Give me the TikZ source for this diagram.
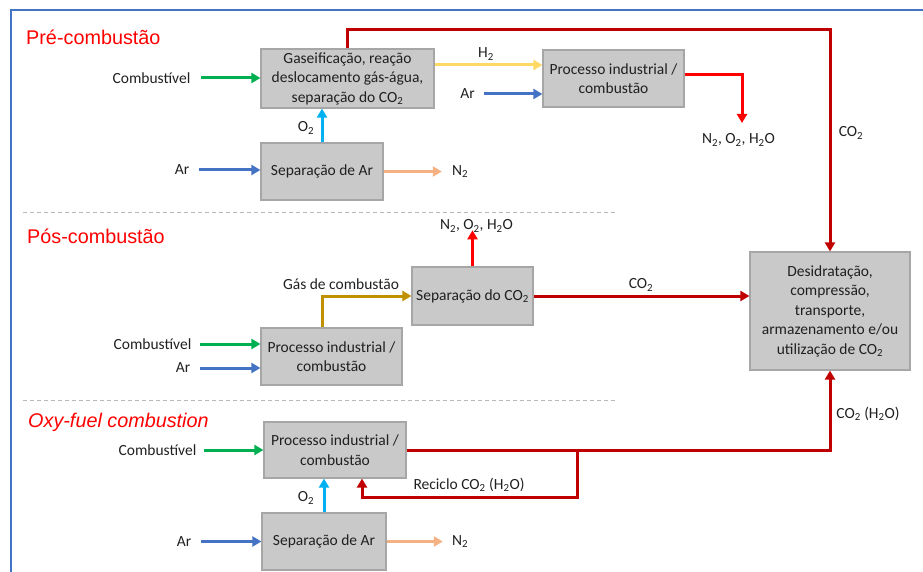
\documentclass[tikz,border=0pt]{standalone}
\usepackage{fontspec}
\setmainfont{Carlito}
\newfontfamily\titlefont{Liberation Sans}
\usetikzlibrary{arrows.meta,calc}

\definecolor{boxfill}{HTML}{C9C9C9}
\definecolor{boxline}{HTML}{A6A6A6}
\definecolor{fuelgreen}{HTML}{00B050}
\definecolor{airblue}{HTML}{4472C4}
\definecolor{oxcyan}{HTML}{00B0F0}
\definecolor{nitro}{HTML}{F4B183}
\definecolor{hydro}{HTML}{FFD966}
\definecolor{flue}{HTML}{BF9000}
\definecolor{darkred}{HTML}{C00000}
\definecolor{brightred}{HTML}{FF0000}
\definecolor{txt}{HTML}{202020}

\tikzset{
  procbox/.style={draw=boxline, fill=boxfill, line width=1.2pt, align=center,
    inner sep=0pt, text=txt, font=\fontsize{15.5}{19.5}\selectfont},
  lbl/.style={inner sep=0pt, text=txt, font=\fontsize{15.5}{19.5}\selectfont, align=center},
  sectitle/.style={inner sep=0pt, anchor=west, text=brightred,
    font=\titlefont\fontsize{19.8}{22}\selectfont},
  flow/.style={line width=3pt, -{Triangle[length=9pt,width=10pt]}},
  pipe/.style={line width=3.4pt, darkred},
  divider/.style={draw=gray!55, line width=1pt, dash pattern=on 4pt off 3pt},
}

\begin{document}
\begin{tikzpicture}[x=1pt,y=-1pt]
\useasboundingbox (0,0) rectangle (923,572);

% frame
\draw[airblue, line width=2.2pt] (11,572) -- (11,10) -- (923,10);

% section dividers
\draw[divider] (23,212) -- (618,212);
\draw[divider] (23,400) -- (618,400);

% section titles
\node[sectitle] (tpre) at (26,37) {Pré-combustão};
\node[sectitle] (tpos) at (27,236) {Pós-combustão};
\node[sectitle, font=\titlefont\itshape\fontsize{19.8}{22}\selectfont] (toxy) at (28,422) {Oxy-fuel combustion};

% ---------- pre-combustion ----------
\node[procbox, minimum width=173pt, minimum height=59pt] (gas) at (347.5,78.5)
  {Gaseificação, reação\\deslocamento gás-água,\\separação do CO\textsubscript{2}};
\node[procbox, minimum width=141pt, minimum height=57pt] (proc1) at (613.5,78.5)
  {Processo industrial /\\combustão};
\node[procbox, minimum width=122pt, minimum height=57pt] (sepa1) at (322,171.5)
  {Separação de Ar};

\node[lbl] (comb1) at (151.5,78) {Combustível};
\node[lbl] (ar1) at (182,170) {Ar};
\node[lbl] (ntwo1) at (460,171.5) {N\textsubscript{2}};
\node[lbl] (otwo1) at (306,128) {O\textsubscript{2}};
\node[lbl] (htwo) at (486,54) {H\textsubscript{2}};
\node[lbl] (ar2) at (467.5,94) {Ar};
\node[lbl] (exh1) at (738.5,140) {N\textsubscript{2}, O\textsubscript{2}, H\textsubscript{2}O};
\node[lbl] (cotwoA) at (851,133) {CO\textsubscript{2}};

\draw[flow, fuelgreen] ([xshift=10pt]comb1.east) -- (gas.west |- comb1.east);
\draw[flow, airblue] ([xshift=10pt]ar1.east) -- (sepa1.west |- ar1.east);
\draw[flow, nitro] (sepa1.east) -- ([xshift=-10pt]ntwo1.west);
\draw[flow, oxcyan] (sepa1.north) -- (sepa1.north |- gas.south);
\draw[flow, hydro] ([yshift=13.5pt]gas.east) -- ([yshift=13.5pt]proc1.west);
\draw[flow, airblue] ([xshift=9pt]ar2.east) -- (proc1.west |- ar2.east);
\coordinate (exh1tip) at (742,123);
\draw[flow, brightred] ([yshift=3.5pt]proc1.east) -| (exh1tip);

% ---------- CO2 handling ----------
\node[procbox, minimum width=160pt, minimum height=118pt] (des) at (830,311)
  {Desidratação,\\compressão,\\transporte,\\armazenamento e/ou\\utilização de CO\textsubscript{2}};

\coordinate (topbend) at (830,30);
\draw[pipe, flow] (gas.north) |- (topbend) -- (des.north);

% ---------- post-combustion ----------
\node[procbox, minimum width=121pt, minimum height=58pt] (sepco2) at (472.5,296)
  {Separação do CO\textsubscript{2}};
\node[procbox, minimum width=141pt, minimum height=57pt] (proc2) at (331.5,356.5)
  {Processo industrial /\\combustão};

\node[lbl] (comb2) at (152.5,344) {Combustível};
\node[lbl] (ar3) at (183,368) {Ar};
\node[lbl] (flab) at (341,284) {Gás de combustão};
\node[lbl] (exh2) at (476.5,226) {N\textsubscript{2}, O\textsubscript{2}, H\textsubscript{2}O};
\node[lbl] (cotwoB) at (641,285) {CO\textsubscript{2}};

\draw[flow, fuelgreen] ([xshift=8pt]comb2.east) -- (proc2.west |- comb2.east);
\draw[flow, airblue] ([xshift=10pt]ar3.east) -- (proc2.west |- ar3.east);
\draw[flow, flue] ([xshift=-9.5pt]proc2.north) |- (sepco2.west);
\draw[flow, brightred] (sepco2.north) -- ([yshift=2pt]sepco2.north |- exh2.south);
\draw[pipe, flow] (sepco2.east) -- (des.west |- sepco2.east);

% ---------- oxy-fuel ----------
\node[procbox, minimum width=142pt, minimum height=56pt] (proc3) at (335,450)
  {Processo industrial /\\combustão};
\node[procbox, minimum width=124pt, minimum height=57pt] (sepa3) at (324,541.5)
  {Separação de Ar};

\node[lbl] (comb3) at (157.5,450) {Combustível};
\node[lbl] (ar4) at (184,541.5) {Ar};
\node[lbl] (ntwo3) at (460,541.5) {N\textsubscript{2}};
\node[lbl] (otwo3) at (306,498) {O\textsubscript{2}};
\node[lbl] (recl) at (469,485) {Reciclo CO\textsubscript{2} (H\textsubscript{2}O)};
\node[lbl] (cotwoC) at (868,414) {CO\textsubscript{2} (H\textsubscript{2}O)};

\draw[flow, fuelgreen] ([xshift=7pt]comb3.east) -- (proc3.west |- comb3.east);
\draw[flow, airblue] ([xshift=10pt]ar4.east) -- (sepa3.west |- ar4.east);
\draw[flow, nitro] (sepa3.east) -- ([xshift=-9pt]ntwo3.west);
\draw[flow, oxcyan] (sepa3.north) -- (sepa3.north |- proc3.south);

\coordinate (split) at (577,450);
\draw[pipe, flow] (proc3.east) -- (split) -| (des.south);
\draw[pipe, flow] (split) -- ++(0,47) -| ([xshift=27pt]proc3.south);
\end{tikzpicture}
\end{document}
